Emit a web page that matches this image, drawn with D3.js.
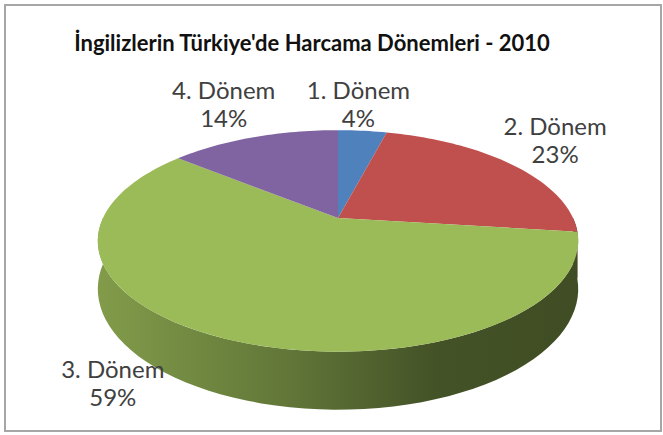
<!DOCTYPE html>
<html>
<head>
<meta charset="utf-8">
<script src="https://cdn.jsdelivr.net/npm/d3@7"></script>
<style>
  body { margin: 0; background: #fff; }
  svg text { font-family: Lato, "Open Sans", sans-serif; }
</style>
</head>
<body>
<div id="chart"></div>
<script>
// data
let categories = ["1. Dönem", "2. Dönem", "3. Dönem", "4. Dönem"];
let values = [4, 23, 59, 14];
let colors = ["#4F81BD", "#C0504D", "#9BBB59", "#8064A2"];
let title = "İngilizlerin Türkiye'de Harcama Dönemleri - 2010";

// label nudges from the rim point at each slice's mid angle (layout only)
let labelOffsets = [[-4, -32], [43, -30], [-110, 40], [-30, -38]];

let width = 663, height = 435;
let cx = 338, cy = 218;      // apex of the pie
let A = 235, B = 106;        // radii before perspective
let p = 0.207;               // perspective strength
let depth = 46;              // wall thickness

let svg = d3.select("#chart").append("svg")
    .attr("width", width)
    .attr("height", height);

svg.append("rect")
    .attr("x", 5).attr("y", 5)
    .attr("width", 656).attr("height", 426)
    .attr("fill", "#fff")
    .attr("stroke", "#a6a6a6")
    .attr("stroke-width", 2);

svg.append("text")
    .attr("x", 312).attr("y", 51)
    .attr("text-anchor", "middle")
    .style("font-size", "22px")
    .style("font-weight", "bold")
    .attr("fill", "#111")
    .text(title);

// project a point of the unit disk (angle a clockwise from top) to the screen
function proj(a, r, dz){
    let u = r * Math.sin(a), v = -r * Math.cos(a);
    let w = 1 - p * v;
    return [cx + A * u / w, cy + B * v / w + (dz || 0) / w];
}

let pie = d3.pie().sort(null).value(d => d);
let arcs = pie(values).map((d, i) => ({ ...d, name: categories[i], color: colors[i], i: i }));

let line = d3.line();
let defs = svg.append("defs");

// side walls, only the front half faces the viewer
arcs.forEach(d => {
    let a0 = Math.max(d.startAngle, Math.PI / 2);
    let a1 = Math.min(d.endAngle, Math.PI * 3 / 2);
    if (a1 <= a0) return;
    let g = defs.append("linearGradient")
        .attr("id", "wall" + d.i)
        .attr("gradientUnits", "userSpaceOnUse")
        .attr("x1", cx - A * 1.03).attr("x2", cx + A * 1.03)
        .attr("y1", 0).attr("y2", 0);
    [[0, 0.5], [0.4, 1.3], [0.7, 2.3], [1, 2.5]].forEach(s => {
        g.append("stop")
            .attr("offset", s[0])
            .attr("stop-color", d3.color(d.color).darker(s[1]).formatHex());
    });
    let steps = d3.range(0, 61).map(k => a0 + (a1 - a0) * k / 60);
    let pts = steps.map(a => proj(a, 1, 0))
        .concat(steps.slice().reverse().map(a => proj(a, 1, depth)));
    svg.append("path")
        .attr("d", line(pts) + "Z")
        .attr("fill", "url(#wall" + d.i + ")");
});

// top faces
svg.selectAll("path.top")
    .data(arcs)
    .enter()
    .append("path")
    .attr("class", "top")
    .attr("d", d => {
        let n = Math.max(4, Math.ceil((d.endAngle - d.startAngle) * 40));
        let pts = [[cx, cy]].concat(d3.range(0, n + 1).map(k =>
            proj(d.startAngle + (d.endAngle - d.startAngle) * k / n, 1, 0)));
        return line(pts) + "Z";
    })
    .attr("fill", d => d.color);

// labels
let labels = svg.selectAll("g.lbl")
    .data(arcs)
    .enter()
    .append("text")
    .attr("class", "lbl")
    .attr("text-anchor", "middle")
    .attr("fill", "#404040")
    .style("font-size", "24px")
    .attr("transform", d => {
        let m = proj((d.startAngle + d.endAngle) / 2, 1, 0);
        let o = labelOffsets[d.i];
        return "translate(" + [m[0] + o[0], m[1] + o[1]] + ")";
    });
labels.append("tspan").attr("x", 0).attr("y", 0).text(d => d.name);
labels.append("tspan").attr("x", 0).attr("y", 28)
    .text(d => Math.round(d.value / d3.sum(values) * 100) + "%");
</script>
</body>
</html>
